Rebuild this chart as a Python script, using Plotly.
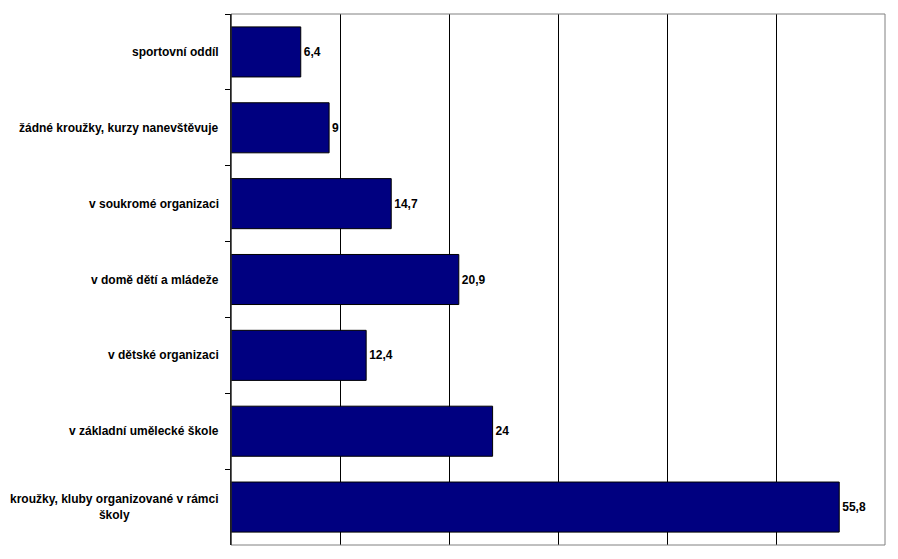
import plotly.graph_objects as go

categories = [
    "sportovní oddíl",
    "žádné kroužky, kurzy nanevštěvuje",
    "v soukromé organizaci",
    "v domě dětí a mládeže",
    "v dětské organizaci",
    "v základní umělecké škole",
    "kroužky, kluby organizované v rámci<br>školy",
]
values = [6.4, 9, 14.7, 20.9, 12.4, 24, 55.8]
value_labels = [str(v).replace(".", ",") for v in values]

FONT = "Liberation Sans, Arial, sans-serif"

fig = go.Figure(
    go.Bar(
        x=values,
        y=categories,
        orientation="h",
        marker=dict(color="#000080", line=dict(color="black", width=1)),
        text=[f"<b>{t}</b>" for t in value_labels],
        textposition="outside",
        textfont=dict(family=FONT, size=12, color="black"),
        cliponaxis=False,
        hoverinfo="skip",
    )
)

annotations = [
    dict(
        x=0, y=c, xref="paper", yref="y",
        text=f"<b>{c}</b>", showarrow=False,
        xanchor="right", yanchor="middle", align="center",
        xshift=-10,
        font=dict(family=FONT, size=12, color="black"),
    )
    for c in categories
]

fig.update_layout(
    width=898, height=559,
    margin=dict(l=231, r=13, t=14, b=14),
    paper_bgcolor="white", plot_bgcolor="white",
    bargap=0.34,
    showlegend=False,
    annotations=annotations,
    xaxis=dict(
        range=[0, 60], dtick=10, showgrid=True, gridcolor="black", gridwidth=1,
        showticklabels=False, ticks="", zeroline=False, showline=False,
        fixedrange=True,
    ),
    yaxis=dict(
        autorange="reversed", showticklabels=False,
        ticks="outside", tickson="boundaries", ticklen=5, tickcolor="black",
        showline=True, linecolor="black", linewidth=1, showgrid=False,
        zeroline=False, fixedrange=True,
    ),
    shapes=[
        dict(type="rect", xref="paper", yref="paper", x0=0, x1=1, y0=0, y1=1,
             line=dict(color="#808080", width=1), layer="above"),
        dict(type="line", xref="paper", yref="paper", x0=0, x1=0, y0=0, y1=1,
             line=dict(color="black", width=1), layer="above"),
    ],
)

fig.write_html(
    "out.html",
    config={"displayModeBar": False, "staticPlot": True},
    post_script="document.body.style.margin='0';document.body.style.overflow='hidden';",
)
